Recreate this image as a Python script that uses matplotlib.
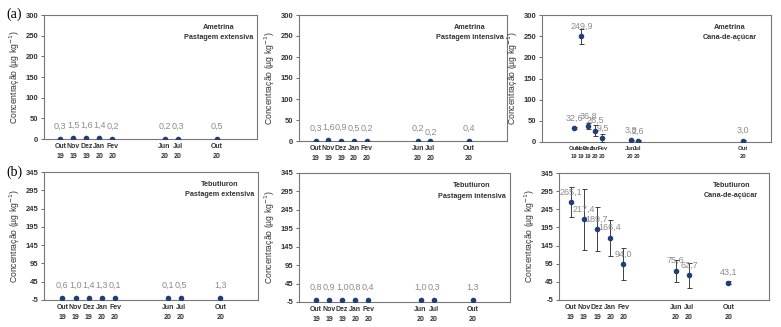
import matplotlib.pyplot as plt

# month labels (two lines) and month offsets from Out/19
months = ["Out\n19", "Nov\n19", "Dez\n19", "Jan\n20", "Fev\n20", "Jun\n20", "Jul\n20", "Out\n20"]
month_idx = [0, 1, 2, 3, 4, 8, 9, 12]
# panel (a) cana-de-acucar was drawn on a stretched axis in the source figure
month_idx_cana_a = [0, 1, 2, 3, 4, 8, 9, 24]

ame_ext = [0.3, 1.5, 1.6, 1.4, 0.2, 0.2, 0.3, 0.5]
ame_int = [0.3, 1.6, 0.9, 0.5, 0.2, 0.2, 0.2, 0.4]
ame_cana = [32.6, 249.9, 36.8, 26.5, 9.5, 3.8, 2.6, 3.0]
ame_cana_err = [2, 18, 7, 13, 10, 2, 1, 1]

teb_ext = [0.6, 1.0, 1.4, 1.3, 0.1, 0.1, 0.5, 1.3]
teb_int = [0.8, 0.9, 1.0, 0.8, 0.4, 1.0, 0.3, 1.3]
teb_cana = [265.1, 217.4, 189.7, 166.4, 94.0, 75.6, 62.7, 43.1]
teb_cana_err = [40, 84, 61, 50, 43, 30, 35, 5]

NAVY = "#1F3F77"
GRAY = "#8C8C8C"
SANS = ["Liberation Sans", "DejaVu Sans"]
W, H = 781, 327

fig = plt.figure(figsize=(W / 100, H / 100), dpi=100)


def px_axes(left, top, right, bottom):
    return fig.add_axes([left / W, 1 - bottom / H, (right - left) / W, (bottom - top) / H])


def fmt(v):
    return f"{v:.1f}".replace(".", ",")


def panel(box, x, y, err, xlim, ylim, yticks, title, label_dy=6, low_labels=(), xfs=5):
    ax = px_axes(*box)
    if err is None:
        ax.plot(x, y, "o", color=NAVY, ms=3, zorder=3)
    else:
        ax.errorbar(x, y, yerr=err, fmt="o", color=NAVY, ms=3, ecolor="#404040",
                    elinewidth=0.7, capsize=1.8, capthick=0.7, zorder=3)
    for i, (xi, yi) in enumerate(zip(x, y)):
        dy = label_dy - 3 if i in low_labels else label_dy
        ax.annotate(fmt(yi), (xi, yi), xytext=(0, dy), textcoords="offset points",
                    ha="center", va="bottom", fontsize=6.5, color=GRAY, family=SANS)
    ax.set_xlim(*xlim)
    ax.set_ylim(*ylim)
    ax.set_yticks(yticks)
    ax.set_yticklabels([str(t) for t in yticks], fontsize=5.5, fontweight="bold",
                       color="#333333", family=SANS)
    ax.set_xticks(x)
    ax.set_xticklabels(months, fontsize=xfs, fontweight="bold", color="#333333",
                       linespacing=1.6, family=SANS)
    ax.tick_params(axis="x", length=0, pad=3)
    ax.tick_params(axis="y", length=2, width=0.6, color="#555555", pad=2)
    for s in ax.spines.values():
        s.set_color("#777777")
        s.set_linewidth(0.8)
    ax.set_ylabel("Concentração (µg kg$^{-1}$)", fontsize=6.2, color="#333333",
                  labelpad=3, family=SANS)
    ax.text(0.82, 0.93, title, transform=ax.transAxes, ha="center", va="top",
            fontsize=5.2, fontweight="bold", color="#333333", linespacing=1.7, family=SANS)
    return ax


top_ticks = [0, 50, 100, 150, 200, 250, 300]
bot_ticks = [-5, 45, 95, 145, 195, 245, 295, 345]

panel((44, 15, 257, 139), month_idx, ame_ext, None, (-1.25, 15.1), (0, 300), top_ticks,
      "Ametrina\nPastagem extensiva")
panel((299, 15, 507, 141), month_idx, ame_int, None, (-1.3, 15.0), (0, 300), top_ticks,
      "Ametrina\nPastagem intensiva", low_labels=(6,))
panel((542, 15, 771, 142), month_idx_cana_a, ame_cana, ame_cana_err, (-4.6, 28), (0, 300),
      top_ticks, "Ametrina\nCana-de-açúcar", label_dy=4, xfs=4.2)
panel((44, 172, 258, 300), month_idx, teb_ext, None, (-1.4, 14.85), (-5, 345), bot_ticks,
      "Tebutiuron\nPastagem extensiva")
panel((299, 173, 510, 302), month_idx, teb_int, None, (-1.3, 14.85), (-5, 345), bot_ticks,
      "Tebutiuron\nPastagem intensiva")
panel((559, 173, 769, 300), month_idx, teb_cana, teb_cana_err, (-0.9, 15.1), (-5, 345),
      bot_ticks, "Tebutiuron\nCana-de-açúcar", label_dy=4)

fig.text(6 / W, 1 - 14 / H, "(a)", fontsize=10, family=["Liberation Serif", "DejaVu Serif"],
         va="center")
fig.text(6 / W, 1 - 172 / H, "(b)", fontsize=10, family=["Liberation Serif", "DejaVu Serif"],
         va="center")

fig.savefig("out.png", dpi=100)
